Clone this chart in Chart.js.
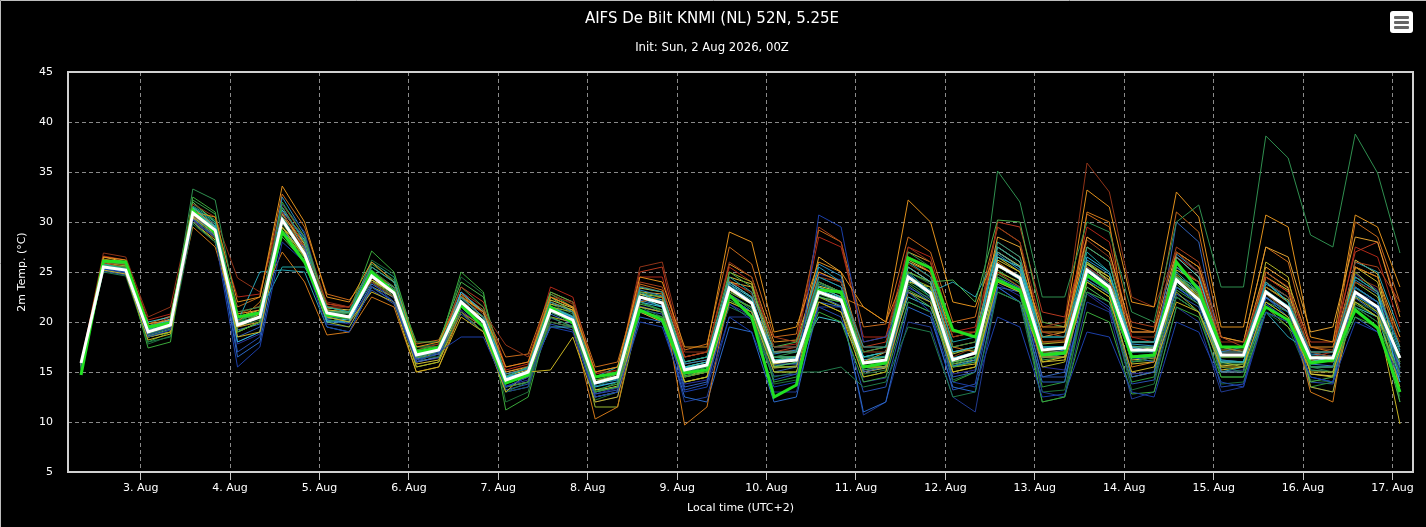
<!DOCTYPE html>
<html>
<head>
<meta charset="utf-8">
<script src="https://cdn.jsdelivr.net/npm/chart.js@4.4.1/dist/chart.umd.min.js"></script>
<style>
  html, body { margin: 0; padding: 0; background: #000; }
  #wrap { position: relative; width: 1426px; height: 527px; }
  #menu { position: absolute; left: 1390px; top: 11px; width: 23px; height: 22px; background: #fff; border-radius: 3px; }
  #menu span { position: absolute; left: 4px; width: 15px; height: 3px; background: #666; border-radius: 1px; }
</style>
</head>
<body>
<div id="wrap">
  <canvas id="chart" width="1426" height="527"></canvas>
  <div id="menu"><span style="top:5px"></span><span style="top:10px"></span><span style="top:15px"></span></div>
</div>
<script>
// 6-hourly steps, local time (UTC+2), hours counted from 2 Aug 00:00
const firstHour = 8;
const stepHours = 6;
const dayTicks = [24, 48, 72, 96, 120, 144, 168, 192, 216, 240, 264, 288, 312, 336, 360];
const dayLabels = ['3. Aug', '4. Aug', '5. Aug', '6. Aug', '7. Aug', '8. Aug', '9. Aug', '10. Aug',
                   '11. Aug', '12. Aug', '13. Aug', '14. Aug', '15. Aug', '16. Aug', '17. Aug'];

// ensemble mean (white)
const mean = [15.9,25.5,25.2, 19.0,19.7,30.9,29.2, 19.7,20.5,30.2,26.8, 20.9,20.5,24.6,22.9,
  16.7,17.2,22.0,20.0, 14.2,15.0,21.2,20.2, 13.9,14.5,22.5,21.9, 15.2,15.7,23.4,21.9,
  16.0,16.2,23.0,22.2, 15.9,16.2,24.5,22.9, 16.2,16.9,25.7,24.4, 17.2,17.4,25.2,23.5,
  17.2,17.2,24.2,22.2, 16.7,16.7,23.0,21.4, 16.4,16.4,23.0,21.5, 16.4];

// control run (green)
const control = [14.7,26.1,26.0, 19.5,19.9,31.2,28.9, 20.5,20.9,29.0,26.0, 20.7,20.5,25.0,23.0,
  17.0,17.4,21.7,19.5, 13.9,14.7,21.5,19.9, 14.5,14.9,21.2,20.2, 14.9,15.2,22.7,20.5,
  12.5,13.7,23.2,23.0, 15.5,15.9,26.4,25.4, 19.2,18.5,24.2,23.2, 16.7,16.9,24.7,23.2,
  16.5,16.7,26.0,23.2, 17.5,17.5,21.5,20.2, 15.9,16.2,21.2,19.4, 13.0];

// perturbed members
const m01 = [15.5,25.3,25.0, 18.5,19.2,30.2,28.5, 15.5,17.5,28.0,26.0, 19.5,19.0,23.5,22.0, 16.0,17.0,18.5,18.5, 13.5,14.5,19.5,19.0, 12.5,13.0,20.0,19.5, 13.0,13.5,20.5,19.0, 13.5,14.0,30.7,29.5, 18.0,18.5,23.0,21.0, 14.0,13.5,20.5,19.5, 12.5,12.8,19.0,18.5, 13.0,12.5,20.0,19.0, 14.0,13.5,21.0,20.0, 14.5,14.0,20.0,19.0, 14.5];
const m02 = [15.8,25.8,25.3, 19.3,20.0,31.5,29.8, 20.5,21.0,25.5,25.5, 21.5,21.0,25.5,24.0, 17.0,17.5,22.5,20.5, 14.5,15.5,22.0,21.0, 14.5,15.0,23.5,23.0, 16.0,16.5,24.5,23.0, 17.0,17.0,24.5,23.5, 17.5,17.5,26.0,24.5, 18.0,18.5,27.5,26.0, 18.5,18.5,27.0,25.0, 18.0,18.0,25.0,23.0, 17.0,17.0,24.0,22.0, 17.0,17.0,24.5,23.0, 17.5];
const m03 = [15.2,25.6,25.4, 18.8,19.5,33.3,32.2, 21.0,21.5,31.5,28.0, 21.0,20.8,25.2,23.5, 16.5,17.0,21.5,19.5, 13.5,14.0,20.5,19.5, 13.0,14.0,22.0,21.0, 15.0,15.5,23.0,22.0, 16.5,17.0,24.0,23.0, 17.0,17.5,27.0,25.5, 17.5,18.0,35.1,32.0, 22.5,22.5,30.0,29.0, 21.0,20.0,30.0,31.7, 23.5,23.5,38.6,36.4, 28.7,27.5,38.8,34.9, 26.9];
const m04 = [15.6,26.5,26.2, 19.8,20.2,31.0,30.5, 22.0,22.5,33.6,30.0, 22.5,22.0,26.0,24.0, 17.5,18.0,22.5,21.0, 15.5,16.0,22.5,21.5, 15.0,15.5,24.5,24.0, 17.5,17.5,29.0,28.0, 19.0,19.5,26.0,25.0, 21.5,20.0,32.2,30.0, 22.0,21.5,27.5,26.0, 19.5,19.5,33.2,31.5, 22.0,21.5,33.0,30.5, 19.5,19.5,30.7,29.5, 18.5,18.0,30.7,29.5, 23.5];
const m05 = [15.9,26.9,26.5, 20.5,21.5,31.8,30.5, 24.4,23.0,31.0,27.0, 22.0,21.5,24.0,22.5, 17.0,17.5,22.0,21.0, 17.7,16.5,22.5,22.0, 15.0,15.0,25.5,26.0, 17.0,17.0,26.0,24.5, 17.5,17.5,24.5,24.0, 17.0,17.0,27.5,26.0, 18.5,19.0,29.5,28.0, 19.5,20.0,35.9,33.0, 22.5,21.5,27.0,25.0, 18.0,18.0,24.0,22.5, 17.0,17.0,24.0,23.0, 18.0];
const m06 = [15.7,25.2,24.8, 18.2,18.8,30.5,28.8, 18.5,19.0,29.5,26.5, 20.5,20.0,23.0,22.0, 15.0,15.5,20.5,19.0, 13.0,15.0,15.2,18.5, 12.0,12.5,21.5,21.0, 14.0,14.5,22.0,21.0, 15.0,15.0,22.0,21.0, 14.5,15.0,23.0,22.0, 15.0,15.5,24.0,23.0, 16.0,16.5,24.0,22.5, 15.0,15.5,22.0,21.0, 15.5,15.5,22.0,20.5, 15.0,15.0,22.0,20.5, 9.8];
const m07 = [15.0,25.7,25.5, 17.4,18.0,32.5,31.0, 19.0,20.0,32.0,28.5, 21.5,21.0,27.1,25.0, 17.5,17.5,25.0,23.0, 11.2,12.5,21.0,20.0, 13.0,13.5,21.0,20.5, 14.5,15.0,22.5,21.5, 15.0,15.0,21.0,20.0, 14.0,14.5,22.0,21.0, 15.5,16.0,24.0,23.0, 12.0,12.5,21.0,20.0, 12.8,13.0,21.5,20.5, 14.5,14.5,21.0,20.0, 15.5,15.5,20.5,19.5, 15.0];
const m08 = [15.8,25.4,25.0, 19.5,20.2,31.2,29.5, 18.0,19.0,31.5,28.0, 20.0,20.0,24.5,23.0, 16.5,17.0,23.0,21.0, 14.5,15.0,21.5,20.5, 13.5,14.0,22.0,21.5, 15.5,16.0,24.0,22.5, 16.0,16.5,23.5,22.5, 16.5,17.0,25.5,24.0, 17.0,17.5,27.5,26.0, 17.5,17.5,26.5,25.0, 17.5,17.0,25.5,23.5, 16.0,16.0,24.0,22.0, 16.0,16.5,24.5,23.0, 14.0];
const m09 = [15.3,25.0,24.6, 18.0,18.5,29.8,28.0, 20.0,20.5,30.0,26.5, 21.0,20.5,24.0,22.5, 16.5,16.5,21.0,19.0, 13.0,14.0,20.0,19.5, 13.5,14.5,21.5,20.5, 14.5,15.5,21.5,20.5, 14.5,15.0,15.0,15.5, 13.5,14.0,19.5,19.0, 12.5,13.0,23.0,22.0, 12.0,12.5,24.0,23.0, 16.0,16.5,22.5,21.0, 15.5,15.0,22.0,20.5, 15.5,15.0,21.5,20.0, 16.0];
const m10 = [15.9,26.2,26.0, 19.0,19.5,29.5,27.5, 20.0,22.0,27.0,24.0, 18.7,19.0,22.5,21.5, 15.0,15.5,21.0,19.5, 14.0,14.5,20.0,19.5, 10.3,11.5,22.0,22.5, 9.7,11.5,23.0,22.0, 16.0,16.5,23.5,22.5, 21.5,20.0,25.5,24.0, 17.5,17.0,26.0,24.5, 16.5,16.5,31.0,30.0, 15.5,16.0,27.0,25.5, 17.5,17.0,23.5,22.0, 13.0,12.0,25.5,24.5, 17.5];
const m11 = [16.0,25.5,25.0, 19.0,19.5,31.0,29.0, 16.5,18.0,29.0,27.5, 20.5,20.5,24.0,22.5, 16.0,16.5,22.0,20.0, 13.5,14.5,21.0,20.0, 12.5,13.0,20.5,20.0, 12.5,12.0,19.5,19.0, 12.0,12.5,22.0,21.5, 11.0,12.0,21.5,20.5, 13.5,13.0,23.5,22.0, 14.0,14.0,24.5,23.0, 14.5,15.0,23.5,22.0, 15.0,15.0,22.5,20.5, 14.5,14.0,23.5,22.0, 15.5];
const m12 = [15.5,26.0,25.8, 19.5,20.0,30.0,28.0, 20.5,20.5,28.5,26.0, 20.5,20.0,25.5,24.0, 18.0,18.0,24.0,22.5, 14.5,15.5,23.0,22.0, 14.5,15.0,23.0,22.5, 16.0,16.5,25.0,23.5, 17.5,18.0,24.0,23.0, 16.5,17.0,25.0,24.0, 24.2,22.0,30.2,30.0, 20.0,19.5,24.5,23.5, 16.0,16.5,24.5,23.0, 16.0,16.0,23.0,21.5, 14.0,14.5,21.5,20.0, 12.0];
const m13 = [15.8,25.9,25.5, 19.0,19.5,30.0,28.0, 21.0,21.5,31.5,27.5, 21.0,20.5,25.0,23.5, 16.5,17.0,22.5,20.5, 14.0,15.0,22.0,21.0, 14.0,14.5,24.0,23.5, 16.5,17.0,24.0,22.5, 18.5,18.0,29.5,28.0, 18.0,18.5,26.5,25.5, 19.0,19.0,25.0,23.5, 19.0,18.5,25.5,24.0, 20.0,19.5,27.5,26.0, 18.5,17.5,25.0,23.5, 17.0,16.5,26.0,25.5, 22.0];
const m14 = [15.6,25.3,25.2, 19.0,19.8,31.5,30.0, 20.5,21.0,30.5,27.0, 21.0,21.0,26.0,24.5, 17.0,17.5,22.5,20.5, 14.5,15.0,21.0,20.0, 14.0,14.5,22.5,22.0, 15.0,15.5,23.5,22.0, 16.5,16.5,23.5,22.5, 16.5,16.5,24.5,22.5, 17.0,17.5,28.0,26.5, 17.5,17.5,27.5,26.0, 17.0,17.0,24.5,23.5, 17.5,17.5,24.0,22.5, 17.0,17.0,23.5,22.0, 17.0];
const m15 = [15.9,25.8,25.5, 18.5,19.0,31.5,29.5, 19.0,20.0,30.0,26.5, 21.0,21.0,24.0,23.0, 15.5,16.0,21.0,19.0, 13.5,14.0,20.5,20.0, 12.5,13.0,22.5,22.0, 14.0,14.5,25.0,24.0, 15.5,15.5,22.0,21.0, 15.5,15.5,25.0,24.0, 15.0,15.5,25.0,24.0, 15.5,16.0,24.0,22.5, 14.5,15.0,24.5,22.5, 15.0,15.0,26.0,24.5, 13.5,13.0,22.5,21.0, 13.5];
const m16 = [15.7,25.4,25.1, 19.0,19.5,30.5,29.0, 18.5,19.5,31.0,28.5, 20.5,20.0,24.5,23.0, 16.5,17.0,22.0,20.0, 13.5,14.0,21.0,20.5, 13.0,13.5,21.5,21.0, 13.5,14.0,22.5,21.0, 15.0,15.5,24.5,23.5, 15.0,15.5,23.0,22.0, 14.5,15.0,23.5,23.0, 14.5,15.0,25.5,24.0, 16.5,16.0,30.0,28.0, 17.0,17.5,22.5,21.0, 15.5,15.5,20.5,19.0, 14.0];
const m17 = [15.4,25.6,25.6, 19.2,19.8,32.0,30.0, 20.0,20.5,29.5,26.5, 20.8,20.5,24.5,23.0, 17.0,17.0,21.5,19.5, 14.0,15.0,22.5,21.0, 14.0,14.5,21.5,21.0, 15.5,16.0,24.0,22.5, 15.5,16.0,22.5,22.0, 16.0,16.5,23.0,21.5, 16.0,16.5,23.0,22.0, 16.5,16.5,23.5,22.0, 16.5,16.5,22.5,21.0, 16.5,16.5,22.5,21.0, 16.0,16.5,22.0,20.5, 16.0];
const m18 = [15.8,26.5,26.0, 19.5,20.0,30.0,28.0, 19.5,20.0,30.5,28.0, 21.5,21.0,24.0,22.5, 16.0,16.5,21.0,19.0, 15.0,15.5,22.5,21.5, 15.0,15.5,21.0,20.0, 14.5,15.0,24.0,23.5, 17.0,17.0,26.5,25.0, 16.0,17.0,27.0,26.0, 17.5,18.0,28.5,27.5, 18.5,19.0,28.5,27.0, 19.0,19.0,27.0,25.5, 18.5,18.0,27.5,26.5, 19.0,19.5,28.5,28.0, 20.5];
const m19 = [15.7,25.6,25.3, 19.2,20.2,30.5,29.0, 20.0,25.0,25.2,25.0, 19.5,19.0,23.5,22.0, 16.5,17.0,22.0,20.0, 14.0,15.0,21.5,20.5, 14.5,15.5,23.0,22.0, 16.0,16.5,22.5,21.0, 17.5,17.5,25.5,24.0, 16.5,17.0,25.0,23.0, 24.0,22.5,27.0,25.5, 18.5,18.5,25.0,23.5, 17.5,17.5,24.5,23.0, 15.0,15.5,21.0,18.5, 17.0,16.5,26.0,25.0, 19.0];
const m20 = [15.6,25.2,24.9, 18.8,19.5,30.0,28.5, 18.0,19.0,31.8,29.0, 21.0,20.5,24.0,22.0, 16.0,16.5,21.0,19.5, 13.0,13.5,20.0,19.5, 12.0,12.5,21.0,20.5, 12.0,12.5,20.5,20.5, 13.0,13.0,21.5,21.5, 10.7,12.0,20.0,19.5, 12.5,11.0,23.5,22.0, 13.0,12.5,22.0,21.0, 12.3,13.0,21.5,20.0, 13.0,13.5,22.0,20.5, 13.5,13.0,23.0,22.0, 15.0];
const m21 = [15.7,25.4,25.0, 18.5,19.0,31.0,29.5, 19.0,20.0,29.5,26.0, 20.0,19.5,23.5,22.5, 15.5,16.0,21.5,20.0, 14.0,14.5,21.5,21.0, 11.5,11.5,21.0,20.5, 14.5,15.0,22.5,21.5, 16.5,16.5,22.5,21.5, 15.5,15.5,24.5,23.5, 16.0,16.5,25.5,24.5, 17.0,17.0,26.0,24.0, 17.0,17.5,23.0,21.0, 16.0,15.5,21.5,19.5, 16.5,16.5,25.0,23.0, 13.0];
const m22 = [15.9,26.0,25.8, 19.5,20.5,30.5,29.0, 20.5,21.0,30.0,27.5, 21.5,21.5,25.5,24.0, 17.0,17.5,23.5,22.0, 15.5,16.0,22.5,21.5, 14.5,15.0,25.0,25.5, 16.0,16.5,24.0,23.0, 17.0,17.5,24.0,23.0, 17.5,18.0,26.5,25.0, 17.0,17.5,30.0,29.5, 21.0,20.5,28.5,27.0, 19.0,19.0,25.5,24.0, 17.5,17.5,24.5,23.0, 18.0,18.0,27.0,28.0, 21.0];
const m23 = [15.8,25.5,25.2, 20.0,20.5,31.0,29.5, 20.5,21.0,29.0,27.0, 21.0,21.0,24.5,23.5, 16.5,17.0,21.5,19.5, 14.0,14.5,19.5,19.5, 14.5,15.0,22.5,21.5, 15.5,15.5,22.5,21.0, 16.5,16.5,20.5,20.0, 16.0,16.0,22.5,21.5, 16.0,16.5,26.5,25.5, 17.5,17.5,26.0,24.0, 18.0,18.0,26.5,24.5, 17.5,17.0,24.0,22.0, 15.5,15.5,21.5,20.5, 14.0];
const m24 = [15.0,25.3,25.0, 18.0,19.0,30.5,28.5, 20.0,21.0,30.5,27.0, 20.0,20.5,25.0,23.5, 16.0,17.0,22.0,20.0, 13.0,13.5,20.5,19.5, 13.0,13.5,22.5,21.5, 14.0,14.5,22.0,21.0, 14.0,14.5,22.5,22.0, 14.5,15.0,24.0,22.5, 14.0,15.0,24.5,23.0, 13.5,14.0,23.0,22.0, 14.0,14.5,23.5,22.5, 14.5,14.5,22.0,21.0, 13.5,14.0,23.5,22.0, 12.0];
const m25 = [15.6,25.7,25.4, 19.3,19.9,31.2,29.6, 19.0,20.0,32.5,28.8, 20.2,20.0,24.8,23.2, 16.8,17.2,23.0,21.0, 14.8,15.3,22.0,21.0, 13.8,14.2,23.2,22.6, 15.8,16.2,23.8,22.0, 16.8,17.2,25.8,24.6, 16.2,16.6,24.8,23.0, 15.5,16.2,26.8,25.2, 16.8,17.2,26.2,24.8, 17.8,17.6,26.8,25.0, 16.2,16.0,23.8,22.5, 16.8,16.6,24.2,22.8, 17.2];
const m26 = [15.8,26.3,25.9, 19.8,20.6,30.6,29.0, 21.5,22.5,32.8,29.5, 22.8,22.2,25.0,23.2, 17.8,18.2,22.8,21.2, 16.5,16.8,23.0,22.0, 15.5,16.0,23.8,23.2, 17.2,17.8,27.5,25.8, 18.5,18.8,29.2,28.0, 19.5,19.8,28.5,27.0, 20.0,20.5,29.5,28.0, 18.0,18.0,30.8,29.5, 19.5,19.0,31.0,29.0, 18.5,18.0,27.5,26.0, 17.5,17.0,30.0,28.5, 22.0];
const m27 = [15.5,25.1,24.7, 18.7,19.4,30.8,29.2, 17.0,18.5,30.5,27.0, 19.8,19.5,23.2,21.8, 16.2,16.8,20.8,19.0, 13.2,13.8,19.8,19.2, 12.8,13.2,21.2,20.8, 13.2,13.8,21.8,20.2, 14.2,14.8,21.5,20.5, 13.0,13.5,22.0,21.0, 13.2,13.8,24.5,23.0, 14.5,14.5,23.0,21.5, 13.8,14.2,22.8,21.5, 13.5,13.8,21.8,20.2, 14.0,13.8,22.8,21.2, 14.8];
const m28 = [15.4,25.5,25.3, 18.9,19.6,32.2,30.8, 20.2,21.0,29.0,26.2, 20.6,20.3,25.8,24.2, 17.2,17.6,23.5,21.5, 14.6,15.4,22.8,21.5, 14.2,14.8,22.0,21.2, 15.2,15.8,22.8,21.2, 15.5,15.5,22.8,22.0, 15.2,15.6,23.8,22.2, 15.8,16.5,25.2,23.8, 16.2,16.5,24.5,23.2, 16.0,16.2,23.2,21.8, 15.8,15.8,23.5,22.0, 15.2,15.0,21.8,20.5, 14.5];
const m29 = [15.8,25.9,25.6, 18.5,19.0,30.0,28.2, 19.5,20.5,30.8,27.8, 21.2,21.0,24.2,23.0, 15.8,16.2,21.8,20.5, 14.2,14.8,21.8,21.2, 13.2,13.5,22.8,22.5, 15.0,15.5,24.5,23.8, 15.8,16.2,23.0,22.2, 15.0,15.5,24.0,23.5, 15.5,15.8,26.2,25.0, 16.0,16.2,25.8,24.5, 15.8,16.0,25.2,24.0, 15.2,15.5,24.5,23.2, 14.8,14.5,25.5,24.0, 15.5];
const m30 = [15.9,25.6,25.3, 19.6,20.3,31.4,29.6, 20.0,20.5,31.2,28.2, 20.4,20.2,24.6,23.0, 16.9,17.3,22.2,20.2, 14.4,15.1,21.4,20.4, 14.0,14.6,22.8,22.2, 15.4,15.8,23.8,22.4, 16.2,16.4,23.2,22.4, 16.0,16.2,24.2,22.8, 16.4,17.0,25.8,24.6, 17.2,17.4,25.0,23.6, 17.0,17.2,24.0,22.4, 16.8,16.6,23.0,21.6, 16.6,16.4,22.6,21.4, 16.6];
const m31 = [15.9,26.6,26.2, 20.2,20.8,31.2,29.8, 22.5,22.8,31.8,28.5, 21.8,21.5,24.8,23.5, 17.2,17.8,23.0,21.5, 15.2,15.8,23.5,22.5, 14.8,15.2,24.5,24.5, 16.5,17.0,25.5,24.0, 17.5,17.8,28.5,27.5, 18.5,18.5,27.5,26.5, 19.0,19.5,28.0,26.5, 20.0,19.5,29.5,28.0, 18.5,18.0,26.5,25.0, 17.0,17.0,24.5,23.0, 16.5,17.0,27.5,26.5, 19.5];
const m32 = [15.1,25.2,25.1, 17.8,18.6,31.8,30.2, 19.5,20.2,29.8,26.8, 21.2,20.8,26.2,24.8, 17.5,17.8,24.5,22.8, 12.0,13.0,21.8,20.8, 12.2,13.0,21.0,20.0, 14.0,14.5,23.5,22.0, 13.8,14.2,24.0,23.0, 14.8,15.2,25.0,23.8, 14.2,15.0,24.0,23.0, 13.0,13.2,23.0,22.0, 13.2,13.8,22.5,21.0, 13.8,14.0,21.0,19.5, 14.2,14.0,22.0,21.0, 12.5];
const m33 = [15.7,25.5,25.1, 19.1,19.7,30.7,29.0, 19.8,20.8,31.0,27.2, 20.8,20.6,24.8,23.2, 16.8,17.2,22.0,20.2, 14.2,14.8,21.5,20.5, 14.0,14.8,22.8,22.0, 15.5,16.0,23.0,21.8, 16.0,16.2,24.0,23.0, 16.2,16.5,25.5,24.0, 16.8,17.5,26.5,25.0, 17.8,18.0,26.0,24.5, 17.5,17.5,24.8,22.8, 16.5,16.5,23.5,22.2, 16.2,16.0,24.0,22.5, 16.0];
const m34 = [15.6,25.3,25.0, 19.4,20.0,30.3,28.7, 19.2,19.8,30.8,27.4, 20.2,20.0,23.8,22.4, 16.3,16.8,21.5,19.6, 14.0,14.6,20.8,19.8, 13.6,14.0,22.2,21.6, 14.8,15.2,22.8,21.4, 15.8,15.8,22.6,21.6, 15.2,15.6,23.6,22.0, 15.6,16.0,24.5,23.4, 16.5,16.5,24.2,22.8, 16.4,16.5,23.5,21.8, 16.0,16.0,22.4,21.0, 15.8,15.6,22.4,20.8, 15.8];
const m35 = [15.8,26.1,25.8, 19.0,19.6,30.4,28.6, 20.8,21.2,29.5,27.2, 21.8,21.5,24.5,23.0, 16.8,17.0,22.8,21.0, 14.8,15.4,22.0,21.2, 14.2,14.5,23.0,22.8, 16.5,17.0,25.8,24.5, 18.0,18.2,25.0,24.0, 17.0,17.5,26.0,25.0, 18.5,19.0,27.0,25.5, 19.0,19.0,27.5,26.0, 18.0,18.0,26.5,24.5, 17.5,17.5,25.5,24.0, 17.5,17.5,25.5,24.5, 18.5];
const m36 = [15.5,25.6,25.4, 19.4,20.1,31.6,30.2, 20.2,20.8,30.5,27.8, 21.2,20.9,25.0,23.4, 16.6,17.1,22.4,20.4, 14.2,14.9,21.6,20.6, 13.8,14.3,22.6,22.0, 15.2,15.6,23.6,22.2, 15.6,15.9,23.8,23.0, 15.4,15.8,24.6,23.2, 15.6,16.4,25.6,24.2, 16.4,16.8,25.4,23.8, 16.6,16.8,24.4,22.8, 16.2,16.0,23.2,21.6, 16.0,16.2,23.4,22.0, 15.4];
const m37 = [15.9,26.0,25.7, 19.6,20.2,30.2,28.4, 20.8,21.6,30.8,28.0, 21.6,21.0,24.4,22.8, 16.8,17.2,22.6,20.8, 15.0,15.6,22.8,21.8, 14.6,15.0,23.6,23.0, 15.8,16.2,24.2,22.8, 17.0,17.2,25.0,24.0, 17.5,17.5,25.8,24.5, 16.5,17.5,26.5,25.0, 18.0,18.2,28.2,26.5, 18.5,18.5,25.8,24.0, 17.2,17.2,22.8,21.0, 17.5,17.2,24.5,23.5, 18.5];
const m38 = [15.3,25.4,25.2, 18.6,19.3,31.0,29.4, 20.2,20.8,29.2,26.4, 21.0,20.6,24.2,22.6, 16.8,17.4,22.2,20.0, 14.0,14.6,21.2,20.2, 13.2,13.8,21.8,21.2, 14.6,15.0,22.2,21.0, 16.2,16.6,23.5,22.8, 15.8,16.0,23.2,22.0, 17.0,17.2,24.8,23.5, 16.8,17.0,24.2,22.8, 17.6,17.4,23.8,22.0, 17.2,17.2,22.8,21.0, 16.4,16.4,22.8,21.0, 15.8];
const m39 = [15.5,25.2,24.8, 18.6,19.2,30.6,28.8, 17.8,18.8,31.2,28.4, 20.2,19.8,23.6,22.0, 16.0,16.4,21.2,19.4, 13.6,14.2,20.4,19.6, 12.8,13.4,21.6,21.0, 13.8,14.2,21.8,20.6, 14.6,14.8,24.8,24.2, 14.0,14.4,23.4,22.4, 14.8,15.2,23.8,22.6, 15.5,15.2,22.8,21.2, 14.8,15.0,25.5,24.0, 15.0,15.2,24.0,22.0, 15.2,15.0,24.8,23.2, 15.2];
const m40 = [15.8,25.8,25.5, 19.4,20.0,30.2,28.4, 20.5,21.2,30.2,27.6, 21.4,21.2,24.2,22.8, 16.4,16.8,22.6,21.0, 14.6,15.2,22.2,21.4, 13.0,13.6,23.4,23.0, 14.6,15.2,23.2,21.8, 15.4,15.6,23.6,23.0, 15.0,15.4,26.2,25.0, 15.8,16.2,27.0,25.6, 16.6,16.8,25.8,24.2, 16.2,16.4,24.6,22.6, 15.6,15.8,25.0,23.4, 14.8,14.6,26.2,24.8, 14.5];

const members = [m01, m02, m03, m04, m05, m06, m07, m08, m09, m10, m11, m12, m13, m14, m15, m16, m17, m18, m19, m20,
                 m21, m22, m23, m24, m25, m26, m27, m28, m29, m30, m31, m32, m33, m34, m35, m36, m37, m38, m39, m40];
const memberColors = ['#1c3fa8', '#1fa3a3', '#2f8f4f', '#e0901c', '#8f3318', '#c8b422', '#3aa83a', '#30b8d8',
                      '#1f7a4a', '#d07818', '#2a68c8', '#4bb04b', '#a8401c', '#20a888', '#b0b028', '#3060b8',
                      '#58c058', '#e0a030', '#28a0b0', '#203a90', '#98b830', '#b83a20', '#3cc0c8', '#2e9a3a',
                      '#2a8cc0', '#c86a1a', '#2850b0', '#38a048', '#d0c030', '#38c8d8', '#b02818', '#1e6e3a',
                      '#a8c038', '#3870c8', '#e89a28', '#20988c', '#8a3a14', '#46b046', '#2a2e98', '#d8c848'];

const toPoints = vals => vals.map((v, i) => ({ x: firstHour + i * stepHours, y: v }));

const datasets = [
  { label: 'Mean', data: toPoints(mean), borderColor: '#ffffff', borderWidth: 3, order: 0 },
  { label: 'Control', data: toPoints(control), borderColor: '#22e022', borderWidth: 3, order: 1 },
  ...members.map((m, k) => ({
    label: 'Member ' + (k + 1), data: toPoints(m),
    borderColor: memberColors[k], borderWidth: 1, order: 2
  }))
];

const font = "'DejaVu Sans', Verdana, sans-serif";

// titles, plot frame and outer border
const decor = {
  id: 'decor',
  afterDraw(chart) {
    const { ctx, chartArea: a } = chart;
    ctx.save();
    ctx.strokeStyle = '#d0d0d0';
    ctx.lineWidth = 2;
    ctx.strokeRect(a.left, a.top, a.right - a.left, a.bottom - a.top);
    ctx.strokeStyle = '#bdbdbd';
    ctx.lineWidth = 1;
    ctx.beginPath();
    ctx.moveTo(0.5, 527); ctx.lineTo(0.5, 0.5); ctx.lineTo(1426, 0.5);
    ctx.stroke();
    ctx.fillStyle = '#ffffff';
    ctx.textAlign = 'center';
    ctx.textBaseline = 'middle';
    ctx.font = '15px ' + font;
    ctx.fillText('AIFS De Bilt KNMI (NL) 52N, 5.25E', 712, 19);
    ctx.font = '11.7px ' + font;
    ctx.fillText('Init: Sun, 2 Aug 2026, 00Z', 712, 48);
    ctx.restore();
  }
};

new Chart(document.getElementById('chart'), {
  type: 'line',
  data: { datasets },
  options: {
    responsive: false,
    animation: false,
    events: [],
    layout: { padding: { top: 72, right: 13, left: 0, bottom: 0 } },
    elements: { point: { radius: 0 }, line: { tension: 0 } },
    plugins: { legend: { display: false }, tooltip: { enabled: false } },
    scales: {
      x: {
        type: 'linear',
        min: 4.5,
        max: 365.5,
        afterBuildTicks: s => { s.ticks = dayTicks.map(v => ({ value: v })); },
        afterFit: s => { s.height = 55; },
        ticks: {
          autoSkip: false, maxRotation: 0, color: '#ffffff', padding: 2,
          font: { family: font, size: 11 },
          callback: v => dayLabels[dayTicks.indexOf(v)]
        },
        grid: { color: '#8a8a8a', lineWidth: 1, borderDash: [4, 3], drawTicks: true, tickLength: 8, tickColor: '#c8c8c8', tickBorderDash: [] },
        border: { display: false, dash: [4, 3] },
        title: { display: true, text: 'Local time (UTC+2)', color: '#ffffff', font: { family: font, size: 11 }, padding: { top: 0, bottom: 12 } }
      },
      y: {
        min: 5,
        max: 45,
        afterFit: s => { s.width = 68; },
        ticks: { stepSize: 5, color: '#ffffff', padding: 15, font: { family: font, size: 11 } },
        grid: { color: '#8a8a8a', lineWidth: 1, borderDash: [4, 3], drawTicks: false },
        border: { display: false, dash: [4, 3] },
        title: { display: true, text: '2m Temp. (°C)', color: '#ffffff', font: { family: font, size: 11 }, padding: { top: 16, bottom: 0 } }
      }
    }
  },
  plugins: [decor]
});
</script>
</body>
</html>
